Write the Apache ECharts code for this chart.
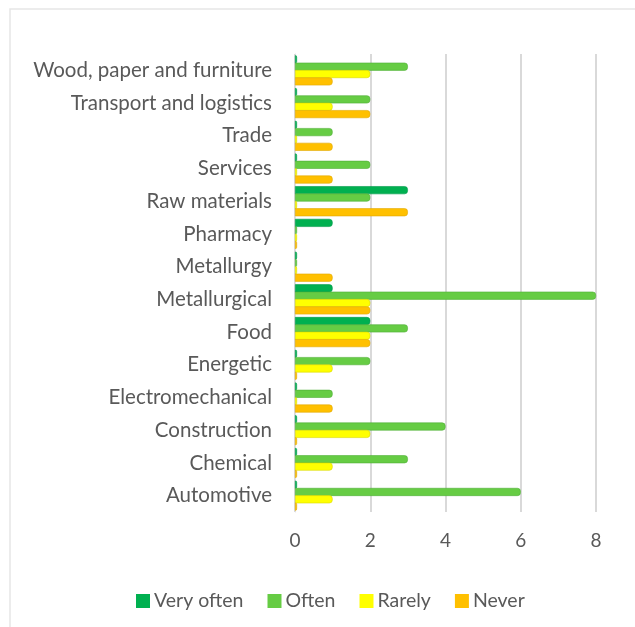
<!DOCTYPE html>
<html>
<head>
<meta charset="utf-8">
<script src="https://cdn.jsdelivr.net/npm/echarts@6/dist/echarts.min.js"></script>
<style>
html,body{margin:0;padding:0;background:#fff;}
#chart{width:635px;height:627px;}
</style>
</head>
<body>
<div id="chart"></div>
<script>
// Categories listed bottom to top (ECharts category y-axis starts at bottom)
var categories = ["Automotive","Chemical","Construction","Electromechanical","Energetic","Food","Metallurgical","Metallurgy","Pharmacy","Raw materials","Services","Trade","Transport and logistics","Wood, paper and furniture"];
var veryOften = [0,0,0,0,0,2,1,0,1,3,0,0,0,0];
var often     = [6,3,4,1,2,3,8,0,0,2,2,1,2,3];
var rarely    = [1,1,2,0,1,2,2,0,0,0,0,0,1,2];
var never     = [0,0,0,1,0,2,2,1,0,3,1,1,2,1];
var xTicks = [0,2,4,6,8];

var seriesNames = ["Very often","Often","Rarely","Never"];
var colors = ["#00b050","#66cc44","#ffff00","#ffc000"];
var borders = ["#00994a","#4fae35","#d8d800","#e0a800"];
var dataSets = [veryOften, often, rarely, never];

var FONT = "Lato, 'Open Sans', sans-serif";
var chart = echarts.init(document.getElementById('chart'));
var series = seriesNames.map(function(n,i){
  return {
    name:n, type:'bar', data:dataSets[i],
    barWidth:8, barGap:'-8%', barMinHeight:2,
    itemStyle:{color:colors[i], borderColor:borders[i], borderWidth:0.6, borderRadius:[0,3,3,0]}
  };
});
chart.setOption({
  animation:false,
  backgroundColor:'#fff',
  graphic:[{type:'rect',shape:{x:10,y:9,width:700,height:700},silent:true,z:-10,
    style:{fill:'none',stroke:'#e6e6e6',lineWidth:1.5}}],
  grid:{left:295,right:39,top:54,bottom:115},
  xAxis:{type:'value',min:xTicks[0],max:xTicks[xTicks.length-1],interval:2,
    axisLine:{show:false},axisTick:{show:false},
    splitLine:{show:true,lineStyle:{color:'#d9d9d9',width:2}},
    axisLabel:{color:'#595959',fontSize:19,fontFamily:FONT,margin:19}},
  yAxis:{type:'category',data:categories,
    axisLine:{show:true,lineStyle:{color:'#e0e0e0',width:1}},axisTick:{show:false},
    axisLabel:{color:'#595959',fontSize:20.5,fontFamily:FONT,margin:23}},
  legend:{data:seriesNames,bottom:11,left:131,itemWidth:14,itemHeight:14,itemGap:24,
    icon:'rect',itemStyle:{borderWidth:0},
    textStyle:{color:'#595959',fontSize:19.5,fontFamily:FONT,padding:[0,0,0,-1]}},
  series:series
});
</script>
</body>
</html>
